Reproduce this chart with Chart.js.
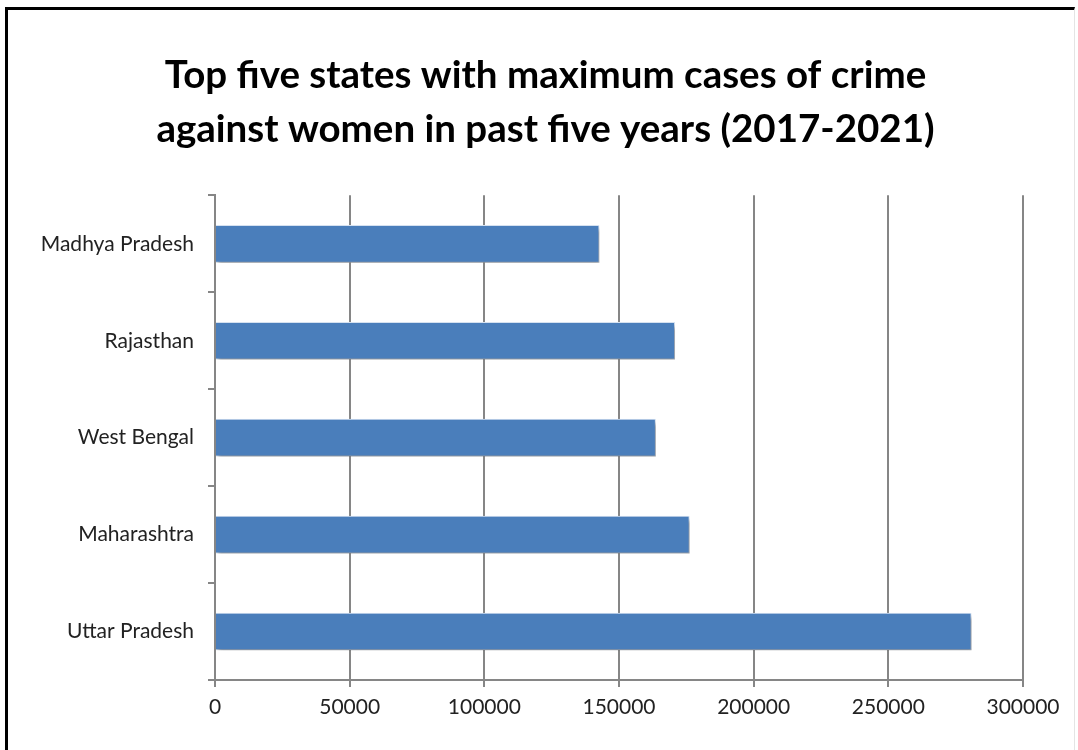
<!DOCTYPE html>
<html>
<head>
<meta charset="utf-8">
<script src="https://cdn.jsdelivr.net/npm/chart.js@4"></script>
<style>
  body { margin: 0; background: #fff; }
  #wrap { position: relative; width: 1078px; height: 750px; }
  #frame { position: absolute; left: 5px; top: 7px; width: 1066px; height: 760px;
           border-left: 3px solid #000; border-top: 3px solid #000; border-right: 1px solid #e4e4e4;
           pointer-events: none; }
</style>
</head>
<body>
<div id="wrap">
  <canvas id="myChart" width="1078" height="750"></canvas>
  <div id="frame"></div>
</div>
<script>
var states = ['Madhya Pradesh', 'Rajasthan', 'West Bengal', 'Maharashtra', 'Uttar Pradesh']
var cases = [142603, 170682, 163568, 176100, 280777]
var titleLines = ['Top five states with maximum cases of crime', 'against women in past five years (2017-2021)']

// soft drop shadow under the bars, like the old office style
var barShadow = {
  id: 'barShadow',
  beforeDatasetsDraw: function (chart) {
    var ctx = chart.ctx
    ctx.save()
    ctx.shadowColor = 'rgba(0,0,0,0.35)'
    ctx.shadowBlur = 4
    ctx.shadowOffsetX = 2
    ctx.shadowOffsetY = 4
  },
  afterDatasetsDraw: function (chart) {
    chart.ctx.restore()
  }
}

// title sits a bit right of the canvas centre in the original
var titleShift = {
  id: 'titleShift',
  afterLayout: function (chart) {
    if (chart.titleBlock) {
      chart.titleBlock.left += 29
      chart.titleBlock.right += 29
    }
  }
}

var data = {
  labels: states,
  datasets: [{
    data: cases,
    backgroundColor: '#4A7EBB',
    borderColor: '#d6e2f1',
    borderWidth: 1,
    barThickness: 37
  }]
}

var config = {
  type: 'bar',
  data: data,
  plugins: [barShadow, titleShift],
  options: {
    indexAxis: 'y',
    responsive: false,
    animation: false,
    layout: { padding: { left: 10, right: 55, top: 0, bottom: 0 } },
    plugins: {
      legend: { display: false },
      tooltip: { enabled: false },
      title: {
        display: true,
        text: titleLines,
        color: '#000',
        font: { family: 'Lato', size: 38.5, weight: 'bold', lineHeight: 1.42 },
        padding: { top: 48, bottom: 38 }
      }
    },
    scales: {
      x: {
        min: 0,
        max: 300000,
        ticks: {
          stepSize: 50000,
          color: '#222',
          font: { family: 'Lato', size: 21 },
          padding: 8,
          callback: function (v) { return String(v) }
        },
        grid: { color: '#868686', lineWidth: 2, tickLength: 7 },
        border: { color: '#868686', width: 2 },
        afterFit: function (scale) { scale.height = 70 }
      },
      y: {
        ticks: {
          color: '#222',
          font: { family: 'Lato', size: 21 },
          padding: 14
        },
        grid: { offset: true, drawOnChartArea: false, color: '#868686', lineWidth: 2, tickLength: 7 },
        border: { color: '#868686', width: 2 },
        afterFit: function (scale) { scale.width = 205 }
      }
    }
  }
}

var mychart = new Chart(document.getElementById('myChart'), config)
</script>
</body>
</html>
